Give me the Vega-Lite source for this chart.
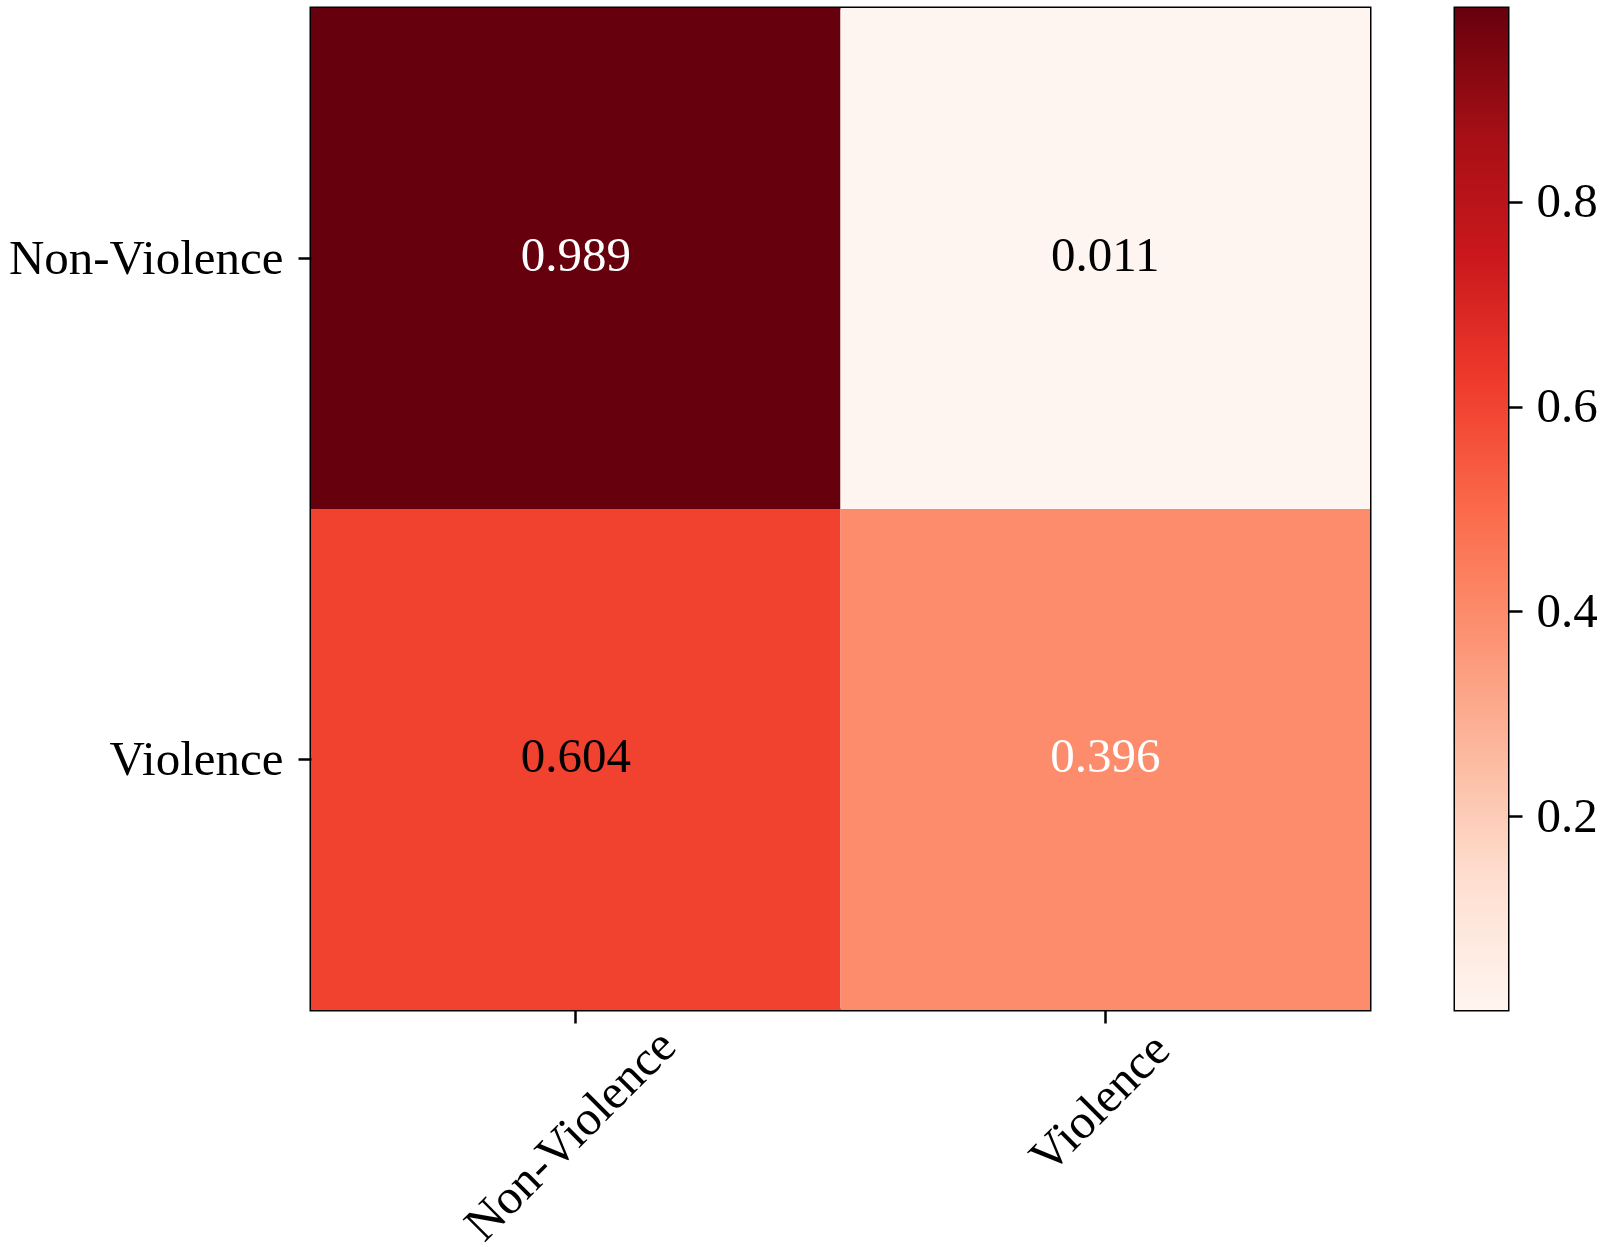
{
  "$schema": "https://vega.github.io/schema/vega-lite/v6.json",
  "padding": {"left": 0, "top": 6, "right": 0, "bottom": 0},
  "background": "white",
  "config": {
    "view": {"stroke": "black", "strokeWidth": 3},
    "font": "Liberation Serif",
    "axis": {
      "labelFont": "Liberation Serif",
      "labelFontSize": 49,
      "labelColor": "black",
      "labelLimit": 0,
      "domain": false,
      "ticks": true,
      "tickColor": "black",
      "tickWidth": 2.5,
      "grid": false,
      "title": null
    }
  },
  "spacing": 81,
  "hconcat": [
    {
      "width": 1059,
      "height": 1002,
      "view": {"stroke": "black", "strokeWidth": 3},
      "data": {
        "values": [
          {"actual": "Non-Violence", "predicted": "Non-Violence", "value": 0.989},
          {"actual": "Non-Violence", "predicted": "Violence", "value": 0.011},
          {"actual": "Violence", "predicted": "Non-Violence", "value": 0.604},
          {"actual": "Violence", "predicted": "Violence", "value": 0.396}
        ]
      },
      "encoding": {
        "x": {
          "field": "predicted",
          "type": "nominal",
          "sort": ["Non-Violence", "Violence"],
          "scale": {"paddingInner": 0, "paddingOuter": 0},
          "axis": {
            "orient": "bottom",
            "labelAngle": -45,
            "labelAlign": "center",
            "labelBaseline": "middle",
            "labelOffset": -5,
            "labelPadding": {"condition": {"test": "datum.value === 'Violence'", "value": 80}, "value": 112},
            "tickSize": 13,
            "labelOverlap": false,
            "labelBound": false,
            "labelFlush": false
          }
        },
        "y": {
          "field": "actual",
          "type": "nominal",
          "sort": ["Non-Violence", "Violence"],
          "scale": {"paddingInner": 0, "paddingOuter": 0},
          "axis": {
            "orient": "left",
            "tickSize": 13,
            "labelPadding": 15,
            "minExtent": 309,
            "maxExtent": 309,
            "labelOverlap": false
          }
        }
      },
      "layer": [
        {
          "mark": {"type": "rect"},
          "encoding": {
            "color": {
              "field": "value",
              "type": "quantitative",
              "scale": {
                "domain": [0.011, 0.13325, 0.2555, 0.37775, 0.5, 0.62225, 0.7445, 0.86675, 0.989],
                "range": ["#fff5f0", "#fee0d2", "#fcbba1", "#fc9272", "#fb6a4a", "#ef3b2c", "#cb181d", "#a50f15", "#67000d"],
                "interpolate": "rgb"
              },
              "legend": null
            }
          }
        },
        {
          "mark": {"type": "text", "font": "Liberation Serif", "fontSize": 49, "baseline": "middle", "align": "center", "dy": -3},
          "encoding": {
            "text": {"field": "value", "type": "quantitative", "format": ".3f"},
            "color": {
              "condition": {"test": "datum.actual === datum.predicted", "value": "white"},
              "value": "black"
            }
          }
        }
      ]
    },
    {
      "width": 53,
      "height": 1002,
      "view": {"stroke": "black", "strokeWidth": 3},
      "data": {"values": [{"lo": 0.011, "hi": 0.989}]},
      "mark": {
        "type": "rect",
        "color": {
          "gradient": "linear",
          "x1": 0, "y1": 1, "x2": 0, "y2": 0,
          "stops": [
            {"offset": 0, "color": "#fff5f0"},
            {"offset": 0.125, "color": "#fee0d2"},
            {"offset": 0.25, "color": "#fcbba1"},
            {"offset": 0.375, "color": "#fc9272"},
            {"offset": 0.5, "color": "#fb6a4a"},
            {"offset": 0.625, "color": "#ef3b2c"},
            {"offset": 0.75, "color": "#cb181d"},
            {"offset": 0.875, "color": "#a50f15"},
            {"offset": 1, "color": "#67000d"}
          ]
        }
      },
      "encoding": {
        "y": {
          "field": "lo",
          "type": "quantitative",
          "scale": {"domain": [0.011, 0.989], "nice": false, "zero": false},
          "axis": {
            "orient": "right",
            "values": [0.2, 0.4, 0.6, 0.8],
            "format": ".1f",
            "tickSize": 14,
            "labelPadding": 14,
            "labelOverlap": false,
            "labelBound": false,
            "labelFlush": false
          }
        },
        "y2": {"field": "hi"}
      }
    }
  ]
}
